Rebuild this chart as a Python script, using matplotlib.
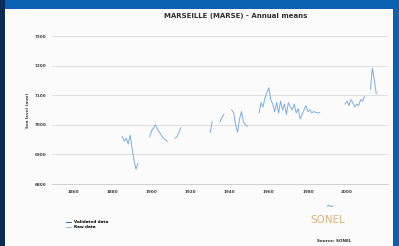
import numpy as np
import matplotlib
matplotlib.use("Agg")
import matplotlib.pyplot as plt
from matplotlib.patches import Rectangle
from matplotlib.lines import Line2D

nan = np.nan

# annual means (mm); nan = no data
years = list(range(1885, 2016))
values = [
    6960, 6945, 6955, 6935, 6965, 6920, 6880, 6850, 6870, nan,   # 1885-1894
    nan, nan, nan, nan, 6960, 6980, 6990, 7000, 6985, 6975,      # 1895-1904
    6965, 6955, 6950, 6945, nan, nan, nan, 6955, 6960, 6975,     # 1905-1914
    6990, nan, nan, nan, nan, nan, nan, nan, nan, nan,           # 1915-1924
    nan, nan, nan, nan, nan, 6975, 7010, nan, nan, nan,          # 1925-1934
    7010, 7025, 7035, nan, nan, nan, 7050, 7040, 7000, 6975,     # 1935-1944
    7020, 7045, 7010, 7000, 6995, nan, nan, nan, nan, nan,       # 1945-1954
    7040, 7075, 7060, 7090, 7110, 7125, 7085, 7070, 7045, 7075,  # 1955-1964
    7040, 7080, 7050, 7070, 7035, 7075, 7060, 7050, 7070, 7040,  # 1965-1974
    7055, 7020, 7035, 7050, 7065, 7045, 7050, 7040, 7045, 7042,  # 1975-1984
    7040, 7041, nan, nan, nan, nan, nan, nan, nan, nan,          # 1985-1994
    nan, nan, nan, nan, 7070, 7080, 7065, 7085, 7075, 7060,      # 1995-2004
    7070, 7065, 7085, 7080, 7095, nan, nan, 7120, 7191, 7150,    # 2005-2014
    7105,                                                        # 2015
]

yticks = [6800, 6900, 7000, 7100, 7200, 7300]
xticks = [1860, 1880, 1900, 1920, 1940, 1960, 1980, 2000]

fig = plt.figure(figsize=(3.99, 2.46), dpi=100)
fig.patch.set_facecolor("white")

# frame of the slide
fig.patches.append(Rectangle((0, 0), 1, 1, transform=fig.transFigure,
                             facecolor="#fbfbfb", edgecolor="none", zorder=-3))
fig.patches.append(Rectangle((0, 1 - 9 / 246), 1, 9 / 246, transform=fig.transFigure,
                             facecolor="#0a60b2", edgecolor="none", zorder=-2))
fig.patches.append(Rectangle((0, 0), 5 / 399, 1, transform=fig.transFigure,
                             facecolor="#0d2a55", edgecolor="none", zorder=-1))
fig.patches.append(Rectangle((1 - 6 / 399, 0), 6 / 399, 1, transform=fig.transFigure,
                             facecolor="#0a60b2", edgecolor="none", zorder=-1))

ax = fig.add_axes([52 / 399, 1 - 184 / 246, 336 / 399, 148 / 246])
ax.set_facecolor("none")
ax.plot(years, values, color="#7aaee0", lw=0.7)

ax.set_xlim(1849, 2021)
ax.set_ylim(6800, 7300)
ax.set_xticks(xticks)
ax.set_yticks(yticks)
ax.set_xticklabels([str(t) for t in xticks], fontsize=3, fontweight="bold", color="#404040")
ax.set_yticklabels([str(t) for t in yticks], fontsize=3, fontweight="bold", color="#404040")
ax.tick_params(length=0, pad=4)
ax.grid(axis="y", color="#d9d9d9", lw=0.6)
for s in ["top", "right", "left"]:
    ax.spines[s].set_visible(False)
ax.spines["bottom"].set_color("#c8c8c8")
ax.spines["bottom"].set_linewidth(0.6)

fig.text(236 / 399, 1 - 16 / 246, "MARSEILLE (MARSE) - Annual means",
         ha="center", va="center", fontsize=5, fontweight="bold", color="#303030")
fig.text(28 / 399, 1 - 110 / 246, "Sea level (mm)", rotation=90,
         ha="center", va="center", fontsize=3, fontweight="bold", color="#404040")

# legend
handles = [Line2D([], [], color="#1f4e9c", lw=0.6),
           Line2D([], [], color="#7aaee0", lw=0.6)]
fig.legend(handles, ["Validated data", "Raw data"], loc="upper left",
           bbox_to_anchor=(64 / 399, 1 - 218 / 246), frameon=False,
           prop={"size": 3, "weight": "bold"}, handlelength=1.2,
           handletextpad=0.6, labelspacing=0.3, borderpad=0)

# logo and source
fig.text(328 / 399, 1 - 220 / 246, "SONEL", ha="center", va="center",
         fontsize=7.5, color="#d8b47a")
fig.text(330 / 399, 1 - 207 / 246, "~", ha="center", va="center",
         fontsize=7, color="#5a9fd4")
fig.text(334 / 399, 1 - 241 / 246, "Source: SONEL", ha="center", va="center",
         fontsize=3, fontweight="bold", color="#303030")

fig.savefig("out.png", dpi=100)
